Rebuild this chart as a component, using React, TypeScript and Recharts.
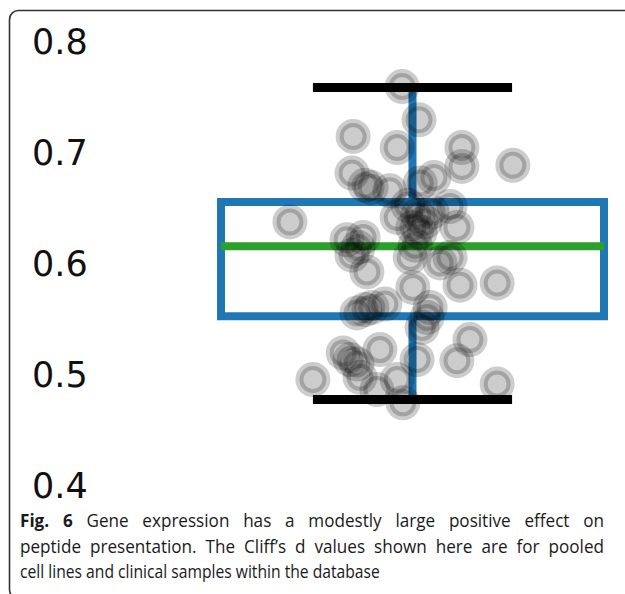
import { ReferenceArea, ReferenceLine, Scatter, ScatterChart, XAxis, YAxis } from 'recharts';

// Cliff's d samples (jittered horizontally around position 1)
const jitterX = [
  0.973, 1.017, 0.845, 0.96, 1.129, 1.262, 1.129, 0.842, 0.876, 0.892, 0.941, 1.02, 1.056, 1.098,
  0.988, 1.014, 1.033, 1.001, 1.02, 1.051, 0.96, 0.68, 1.116, 0.829, 0.871, 0.858, 0.842, 0.881,
  0.994, 1.007, 1.072, 1.098, 1.124, 1.221, 1.001, 1.046, 1.038, 1.025, 0.855, 0.876, 0.894, 0.928,
  1.15, 0.819, 0.837, 0.855, 0.915, 0.863, 1.012, 1.116, 0.74, 0.96, 0.907, 0.975, 1.221,
];
const cliffsD = [
  0.759, 0.729, 0.714, 0.704, 0.704, 0.688, 0.687, 0.681, 0.67, 0.668, 0.665, 0.672, 0.677, 0.651,
  0.652, 0.643, 0.637, 0.632, 0.628, 0.646, 0.641, 0.637, 0.632, 0.621, 0.623, 0.614, 0.607, 0.592,
  0.605, 0.616, 0.6, 0.605, 0.58, 0.582, 0.578, 0.56, 0.551, 0.542, 0.555, 0.558, 0.56, 0.563,
  0.531, 0.519, 0.513, 0.509, 0.522, 0.497, 0.513, 0.512, 0.495, 0.495, 0.486, 0.474, 0.491,
];

// box statistics
const boxPos = 1;
const boxHalf = 0.5;
const capHalf = 0.26;
const q1 = 0.552;
const q3 = 0.655;
const median = 0.615;
const whiskerLow = 0.477;
const whiskerHigh = 0.758;

const yTicks = [0.4, 0.5, 0.6, 0.7, 0.8];

const captionLines = [
  { bold: 'Fig. 6', text: 'Gene expression has a modestly large positive effect on', justify: true, squeeze: 0.95 },
  { bold: '', text: 'peptide presentation. The Cliff’s d values shown here are for pooled', justify: true, squeeze: 0.95 },
  { bold: '', text: 'cell lines and clinical samples within the database', justify: false, squeeze: 0.87 },
];

const points = jitterX.map((x, i) => ({ x, y: cliffsD[i] }));

const blue = '#1f77b4';
const green = '#2ca02c';

const YTick = (props: any) => {
  const { y, payload } = props;
  return (
    <text x={32} y={y} dy={12.8} fontSize={35} fontFamily="DejaVu Sans" fill="#111" textAnchor="start">
      {payload.value.toFixed(1)}
    </text>
  );
};

const Dot = (props: any) => {
  const { cx, cy } = props;
  return (
    <circle
      cx={cx}
      cy={cy}
      r={13.5}
      fill="#000"
      fillOpacity={0.2}
      stroke="#000"
      strokeOpacity={0.2}
      strokeWidth={8}
    />
  );
};

export default function App() {
  return (
    <div style={{ position: 'absolute', left: 0, top: 0, width: 625, height: 594, background: '#fff', overflow: 'hidden' }}>
      <ScatterChart width={625} height={594} margin={{ top: 41, right: 1.85, bottom: 109, left: 0 }}>
        <XAxis type="number" dataKey="x" domain={[0.25, 1.55]} hide allowDataOverflow />
        <YAxis
          type="number"
          dataKey="y"
          domain={[0.4, 0.8]}
          ticks={yTicks}
          interval={0}
          width={125.25}
          axisLine={false}
          tickLine={false}
          tickSize={0}
          tick={<YTick />}
        />
        <ReferenceArea
          x1={boxPos - boxHalf}
          x2={boxPos + boxHalf}
          y1={q1}
          y2={q3}
          fill="none"
          stroke={blue}
          strokeWidth={8}
          fillOpacity={0}
          strokeOpacity={1}
        />
        <ReferenceLine segment={[{ x: boxPos, y: q3 }, { x: boxPos, y: whiskerHigh }]} stroke={blue} strokeWidth={8} />
        <ReferenceLine segment={[{ x: boxPos, y: q1 }, { x: boxPos, y: whiskerLow }]} stroke={blue} strokeWidth={8} />
        <ReferenceLine
          segment={[{ x: boxPos - capHalf, y: whiskerHigh }, { x: boxPos + capHalf, y: whiskerHigh }]}
          stroke="#000"
          strokeWidth={9}
        />
        <ReferenceLine
          segment={[{ x: boxPos - capHalf, y: whiskerLow }, { x: boxPos + capHalf, y: whiskerLow }]}
          stroke="#000"
          strokeWidth={9}
        />
        <ReferenceLine
          segment={[{ x: boxPos - boxHalf, y: median }, { x: boxPos + boxHalf, y: median }]}
          stroke={green}
          strokeWidth={8}
        />
        <Scatter data={points} shape={<Dot />} isAnimationActive={false} />
      </ScatterChart>
      <svg width={625} height={594} style={{ position: 'absolute', left: 0, top: 0, pointerEvents: 'none' }}>
        <rect x={9.5} y={10.5} width={700} height={588} rx={9} fill="none" stroke="#333" strokeWidth={1.6} />
      </svg>
      <div
        style={{
          position: 'absolute',
          left: 20,
          top: 508,
          fontFamily: '"Open Sans", sans-serif',
          fontSize: 18,
          lineHeight: '25.5px',
          color: '#1a1a1a',
        }}
      >
        {captionLines.map((line, i) => (
          <div
            key={i}
            style={{
              width: 584 / line.squeeze,
              whiteSpace: 'nowrap',
              textAlign: line.justify ? 'justify' : 'left',
              textAlignLast: line.justify ? 'justify' : 'left',
              transform: `scaleX(${line.squeeze})`,
              transformOrigin: 'left top',
            }}
          >
            {line.bold && <b>{line.bold} </b>}
            {line.text}
          </div>
        ))}
      </div>
    </div>
  );
}
